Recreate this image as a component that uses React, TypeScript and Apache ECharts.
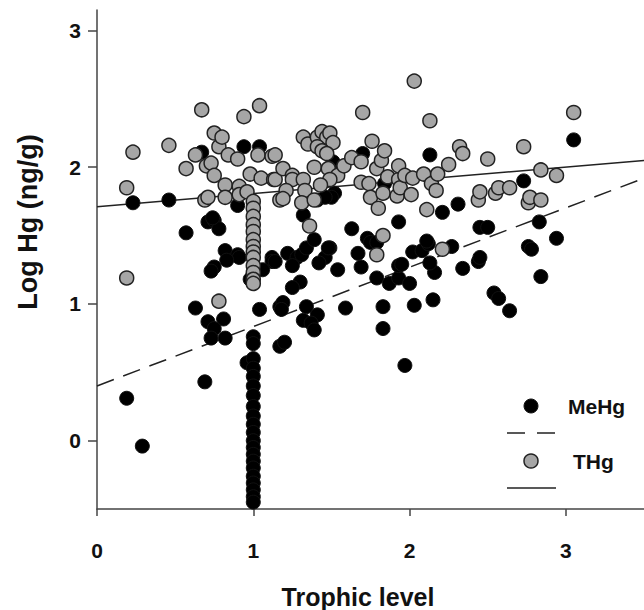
import React, { useEffect, useRef } from "react";
import * as echarts from "echarts";

// MeHg observations: [trophic level, log Hg]
const meHgPoints: number[][] = [
  [0.19, 0.31], [0.29, -0.04], [0.23, 1.74], [0.46, 1.76], [0.57, 1.52], [0.63, 0.97], [0.69, 0.43],
  [0.67, 2.11], [0.71, 1.60], [0.75, 1.61], [0.78, 1.55], [0.74, 1.63], [0.90, 1.72], [0.94, 2.15],
  [1.04, 2.15], [0.82, 1.39], [0.90, 1.36], [0.91, 1.34], [0.83, 1.32], [0.75, 1.27], [0.73, 1.24],
  [1.12, 1.34], [1.12, 1.31], [1.06, 1.25], [0.98, 1.18], [0.71, 0.87], [0.81, 0.89], [0.75, 0.82],
  [0.73, 0.75], [0.82, 0.75], [1.04, 0.96], [1.17, 0.98], [1.17, 0.69], [1.0, 1.22],
  [1.0, 0.76], [1.0, 0.71], [0.96, 0.57], [1.0, 0.6], [1.0, 0.53], [1.0, 0.47], [1.0, 0.4], [1.0, 0.33],
  [1.0, 0.25], [1.0, 0.18], [1.0, 0.12], [1.0, 0.06], [1.0, 0.0], [1.0, -0.05], [1.0, -0.1], [1.0, -0.15],
  [1.0, -0.2], [1.0, -0.26], [1.0, -0.31], [1.0, -0.36], [1.0, -0.41], [1.0, -0.45],
  [1.14, 1.31], [1.22, 1.37], [1.28, 1.34], [1.31, 1.36], [1.34, 1.41], [1.39, 1.47], [1.32, 1.65],
  [1.25, 1.28], [1.3, 1.16], [1.25, 1.12], [1.19, 1.01], [1.18, 0.96], [1.34, 0.98], [1.41, 0.92],
  [1.32, 0.88], [1.37, 0.86], [1.39, 0.81], [1.2, 0.72], [1.49, 1.41], [1.46, 1.34], [1.42, 1.3],
  [1.54, 1.25], [1.48, 1.41], [1.59, 0.97], [1.63, 1.55], [1.67, 1.37], [1.69, 1.27], [1.73, 1.48],
  [1.75, 1.45], [1.79, 1.45], [1.79, 1.19], [1.87, 1.15], [1.93, 1.19], [1.93, 1.28], [1.83, 0.98],
  [1.83, 0.82], [1.93, 1.6], [1.97, 0.55], [2.0, 1.15], [2.03, 0.99], [2.15, 1.03], [1.95, 1.29],
  [2.02, 1.38], [2.08, 1.39], [2.12, 1.44], [2.11, 1.46], [2.16, 1.23], [2.13, 1.3], [2.21, 1.67],
  [2.31, 1.73], [2.27, 1.42], [2.34, 1.26], [2.44, 1.31], [2.45, 1.34], [2.45, 1.56], [2.5, 1.56],
  [2.54, 1.08], [2.57, 1.04], [2.64, 0.95], [2.73, 1.9], [2.76, 1.42], [2.78, 1.4], [2.83, 1.6],
  [2.84, 1.2], [2.94, 1.48], [3.05, 2.2], [2.13, 2.09], [1.7, 2.1], [1.51, 2.04], [1.53, 1.96],
  [1.84, 1.88], [1.52, 1.81], [1.5, 1.78], [1.41, 1.76], [1.46, 1.78],
];

// THg observations: [trophic level, log Hg]
const tHgPoints: number[][] = [
  [0.19, 1.19], [0.19, 1.85], [0.23, 2.11], [0.46, 2.16], [0.57, 1.99], [0.63, 2.09], [0.67, 2.42],
  [0.69, 1.76], [0.71, 1.78], [0.7, 2.01], [0.73, 2.03], [0.75, 1.94], [0.75, 2.25], [0.78, 2.15],
  [0.8, 2.22], [0.78, 1.02], [0.82, 1.87], [0.82, 1.78], [0.84, 2.09], [0.9, 2.06], [0.91, 1.86],
  [0.91, 1.8], [0.94, 2.37], [0.96, 1.82], [0.98, 1.95], [1.0, 1.75], [1.0, 1.7], [1.0, 1.64],
  [1.0, 1.58], [1.0, 1.53], [1.0, 1.47], [1.0, 1.42], [1.0, 1.38], [1.0, 1.34], [1.0, 1.28],
  [1.0, 1.23], [1.0, 1.18], [1.0, 1.15], [1.03, 2.09], [1.04, 2.45], [1.05, 1.92], [1.12, 2.08],
  [1.13, 1.91], [1.17, 1.76], [1.14, 2.09], [1.14, 1.91], [1.19, 1.99], [1.25, 1.94], [1.25, 1.91],
  [1.32, 1.91], [1.21, 1.83], [1.33, 1.83], [1.19, 1.77], [1.31, 1.74], [1.39, 1.76], [1.39, 2.0],
  [1.32, 2.22], [1.35, 2.17], [1.41, 2.22], [1.44, 2.26], [1.47, 2.22], [1.49, 2.25], [1.51, 2.18],
  [1.41, 2.15], [1.44, 2.12], [1.47, 2.1], [1.48, 1.99], [1.54, 1.94], [1.49, 1.91], [1.43, 1.87],
  [1.36, 1.57], [1.58, 2.01], [1.63, 2.07], [1.69, 2.04], [1.7, 2.4], [1.69, 1.89], [1.74, 1.88],
  [1.75, 1.78], [1.76, 2.19], [1.79, 1.99], [1.8, 1.7], [1.82, 2.05], [1.83, 1.81], [1.83, 1.5],
  [1.84, 2.12], [1.86, 1.93], [1.92, 1.79], [1.93, 1.91], [1.93, 2.01], [1.94, 1.85], [1.97, 1.94],
  [2.01, 1.8], [2.02, 1.92], [2.03, 2.63], [2.09, 1.95], [2.11, 1.69], [2.13, 2.34], [2.14, 1.88],
  [2.17, 1.83], [2.18, 1.95], [2.21, 1.4], [2.25, 2.02], [2.32, 2.15], [2.34, 2.1], [2.44, 1.76],
  [2.45, 1.82], [2.5, 2.06], [2.55, 1.81], [2.57, 1.85], [2.64, 1.85], [2.73, 2.15], [2.76, 1.74],
  [2.77, 1.78], [2.84, 1.76], [2.84, 1.98], [2.94, 1.94], [3.05, 2.4], [1.79, 1.36],
];

// Regression lines (end points)
const meHgFit: number[][] = [[0, 0.4], [3.5, 1.92]];
const tHgFit: number[][] = [[0, 1.71], [3.5, 2.05]];

const tickValues = [0, 1, 2, 3];
const xRange = [0, 3.5];
const yRange = [-0.5, 3.15];

const FONT = "'Liberation Sans', Arial, Helvetica, sans-serif";

export default function App() {
  const ref = useRef<HTMLDivElement>(null);
  useEffect(() => {
    if (!ref.current) return;
    const chart = echarts.init(ref.current, undefined, { renderer: "svg" });
    const axisCommon = {
      type: "value",
      splitLine: { show: false },
      axisLine: { show: true, onZero: false, lineStyle: { color: "#444", width: 1.5 } },
      axisTick: { show: true, inside: false, customValues: tickValues, lineStyle: { color: "#444", width: 1.5 } },
    };
    chart.setOption({
      animation: false,
      backgroundColor: "#fff",
      grid: { left: 97, right: 0, top: 10, bottom: 101, containLabel: false },
      xAxis: {
        ...axisCommon,
        min: xRange[0],
        max: xRange[1],
        axisTick: { ...axisCommon.axisTick, length: 7 },
        axisLabel: {
          customValues: tickValues,
          margin: 31,
          fontSize: 21,
          fontWeight: "bold",
          fontFamily: FONT,
          color: "#111",
        },
      },
      yAxis: {
        ...axisCommon,
        min: yRange[0],
        max: yRange[1],
        axisTick: { ...axisCommon.axisTick, length: 9 },
        axisLabel: {
          customValues: tickValues,
          margin: 16,
          fontSize: 21,
          fontWeight: "bold",
          fontFamily: FONT,
          color: "#111",
        },
      },
      series: [
        {
          name: "MeHg fit",
          type: "line",
          data: meHgFit,
          symbol: "none",
          lineStyle: { color: "#222", width: 1.5, type: [18, 10] },
          z: 1,
        },
        {
          name: "THg fit",
          type: "line",
          data: tHgFit,
          symbol: "none",
          lineStyle: { color: "#222", width: 1.5 },
          z: 1,
        },
        {
          name: "MeHg",
          type: "scatter",
          data: meHgPoints,
          symbolSize: 14,
          itemStyle: { color: "#000", borderColor: "#111", borderWidth: 1, opacity: 1 },
          z: 2,
        },
        {
          name: "THg",
          type: "scatter",
          data: tHgPoints,
          symbolSize: 14,
          itemStyle: { color: "#a6a6a6", borderColor: "#222", borderWidth: 1.5, opacity: 1 },
          z: 3,
        },
      ],
      graphic: [
        {
          type: "text",
          x: 358,
          y: 597,
          style: {
            text: "Trophic level",
            fontSize: 25,
            fontWeight: "bold",
            fontFamily: FONT,
            fill: "#111",
            textAlign: "center",
            textVerticalAlign: "middle",
          },
        },
        {
          type: "text",
          x: 28,
          y: 222,
          rotation: Math.PI / 2,
          style: {
            text: "Log Hg (ng/g)",
            fontSize: 27,
            fontWeight: "bold",
            fontFamily: FONT,
            fill: "#111",
            textAlign: "center",
            textVerticalAlign: "middle",
          },
        },
        { type: "circle", shape: { cx: 531, cy: 406, r: 7 }, style: { fill: "#000", stroke: "#111", lineWidth: 1 } },
        {
          type: "line",
          shape: { x1: 507, y1: 433, x2: 556, y2: 433 },
          style: { stroke: "#222", lineWidth: 1.5, lineDash: [18, 12] },
        },
        { type: "circle", shape: { cx: 531, cy: 461, r: 7 }, style: { fill: "#a6a6a6", stroke: "#222", lineWidth: 1.5 } },
        {
          type: "line",
          shape: { x1: 507, y1: 488, x2: 556, y2: 488 },
          style: { stroke: "#222", lineWidth: 1.5 },
        },
        {
          type: "text",
          x: 568,
          y: 406,
          style: { text: "MeHg", fontSize: 21, fontWeight: "bold", fontFamily: FONT, fill: "#111", textVerticalAlign: "middle" },
        },
        {
          type: "text",
          x: 573,
          y: 461,
          style: { text: "THg", fontSize: 21, fontWeight: "bold", fontFamily: FONT, fill: "#111", textVerticalAlign: "middle" },
        },
      ],
    });
    return () => chart.dispose();
  }, []);
  return (
    <div
      ref={ref}
      style={{ position: "fixed", left: 0, top: 0, width: 644, height: 610, background: "#fff" }}
    />
  );
}
